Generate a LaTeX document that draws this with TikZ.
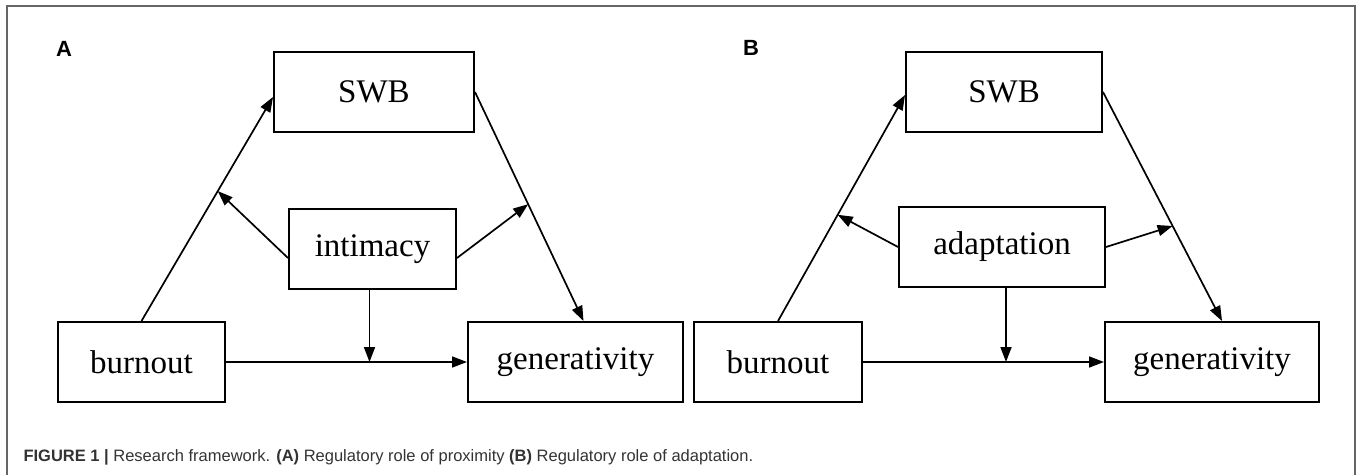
\documentclass[tikz,border=0pt]{standalone}
\usepackage{fontspec}
\setmainfont{Liberation Serif}
\newfontfamily\capfont{Liberation Sans}
\usetikzlibrary{arrows.meta,calc}
\tikzset{
  box/.style={draw, line width=2pt, minimum height=80pt, inner sep=0pt, font=\fontsize{33}{36}\selectfont},
  link/.style={line width=1.7pt, -{Triangle[length=15pt,width=11pt]}},
  panel/.style={font=\capfont\bfseries\fontsize{22}{24}\selectfont},
}
\begin{document}
\begin{tikzpicture}[x=1pt,y=-1pt]
\useasboundingbox (0,0) rectangle (1357,474);
\draw[line width=2pt, black!60] (7,480) -- (7,6) -- (1355,6) -- (1355,480);

\node[panel] (labA) at (64,49) {A};
\node[box, minimum width=200pt] (swbA) at (374,92) {SWB};
\node[box, minimum width=167pt] (intA) at (372.5,249) {intimacy};
\node[box, minimum width=167pt] (burnA) at (141.5,362) {burnout};
\node[box, minimum width=215pt] (genA) at (575.5,362) {generativity};
\coordinate (midAl) at ($(burnA.north)!0.58!([yshift=-5pt]swbA.west)$);
\coordinate (midAr) at ($(swbA.east)!0.49!([xshift=8pt]genA.north)$);
\draw[link] (burnA.north) -- ([yshift=-5pt]swbA.west);
\draw[link] (swbA.east) -- ([xshift=8pt]genA.north);
\draw[link] ([yshift=-9pt]intA.west) -- (midAl);
\draw[link] ([yshift=-9pt]intA.east) -- (midAr);
\draw[link] ([xshift=-3pt]intA.south) -- ([xshift=-3pt]intA.south |- burnA.east);
\draw[link] (burnA.east) -- (genA.west);

\node[panel] (labB) at (751,48) {B};
\node[box, minimum width=196pt] (swbB) at (1004,92) {SWB};
\node[box, minimum width=206pt] (adaB) at (1002,247) {adaptation};
\node[box, minimum width=168pt] (burnB) at (778,362) {burnout};
\node[box, minimum width=214pt] (genB) at (1212,362) {generativity};
\coordinate (midBl) at ($(burnB.north)!0.47!([yshift=-3pt]swbB.west)$);
\coordinate (midBr) at ($(swbB.east)!0.585!([xshift=10pt]genB.north)$);
\draw[link] (burnB.north) -- ([yshift=-3pt]swbB.west);
\draw[link] (swbB.east) -- ([xshift=10pt]genB.north);
\draw[link] (adaB.west) -- (midBl);
\draw[link] (adaB.east) -- (midBr);
\draw[link] ([xshift=4pt]adaB.south) -- ([xshift=4pt]adaB.south |- burnB.east);
\draw[link] (burnB.east) -- (genB.west);

\node[anchor=base west, font=\capfont\fontsize{16.5}{18}\selectfont, text=black!80] (cap) at (20,461)
  {\textbf{FIGURE 1 |} Research framework. \textbf{(A)} Regulatory role of proximity \textbf{(B)} Regulatory role of adaptation.};
\end{tikzpicture}
\end{document}
